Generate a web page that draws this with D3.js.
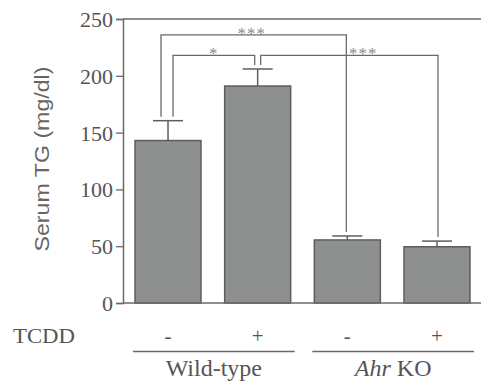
<!DOCTYPE html>
<html>
<head>
<meta charset="utf-8">
<script src="https://cdn.jsdelivr.net/npm/d3@7"></script>
</head>
<body style="margin:0">
<script>
// values
const treatment = ["-", "+", "-", "+"];
const genotype = ["Wild-type", "Wild-type", "Ahr KO", "Ahr KO"];
const means = [143, 191, 55.5, 49.5];
const sems = [17.5, 15, 3.5, 5];
const yTicks = [0, 50, 100, 150, 200, 250];
// significance brackets: [from bar, to bar, level (mg/dl), label]
const brackets = [
  [0, 2, 236, "***"],
  [0, 1, 218, "*"],
  [1, 3, 218, "***"]
];

const width = 481, height = 381;
const svg = d3.select("body").append("svg")
  .attr("width", width)
  .attr("height", height);

// every text gets its face inline so nothing else overrides it
const font = (sel, family) => sel.style("font-family", `'${family || "Liberation Serif"}'`, "important");

const x = d3.scaleBand()
  .domain(d3.range(means.length))
  .range([123, 482])
  .paddingInner(0.264)
  .paddingOuter(0.134);

const y = d3.scaleLinear().domain([0, 250]).range([303, 19]);

const cx = i => x(i) + x.bandwidth() / 2;
const axisColor = "#6a6a6a";

// top line of the frame
svg.append("line")
  .attr("x1", x.range()[0]).attr("x2", width)
  .attr("y1", y(250)).attr("y2", y(250))
  .attr("stroke", axisColor).attr("stroke-width", 1.3);

// y axis
const yAxis = svg.append("g")
  .attr("transform", `translate(${x.range()[0]},0)`)
  .call(d3.axisLeft(y).tickValues(yTicks).tickSize(7).tickPadding(3));
yAxis.select(".domain").attr("stroke", axisColor).attr("stroke-width", 1.5);
yAxis.selectAll(".tick line").attr("stroke", axisColor).attr("stroke-width", 1.3);
yAxis.selectAll(".tick text")
  .call(font)
  .style("font-size", "22px")
  .attr("fill", "#555")
  .attr("dy", "0.34em");

svg.append("text")
  .attr("transform", `translate(49,${(y(0) + y(250)) / 2 - 2}) rotate(-90)`)
  .attr("text-anchor", "middle")
  .call(font, "Liberation Sans")
  .style("font-size", "21px")
  .attr("textLength", 185)
  .attr("lengthAdjust", "spacingAndGlyphs")
  .attr("fill", "#666")
  .text("Serum TG (mg/dl)");

// bars
svg.selectAll("rect.bar")
  .data(means)
  .enter().append("rect")
  .attr("class", "bar")
  .attr("x", (d, i) => x(i))
  .attr("y", d => y(d))
  .attr("width", x.bandwidth())
  .attr("height", d => y(0) - y(d))
  .attr("fill", "#8d908e")
  .attr("stroke", "#5c5e5d")
  .attr("stroke-width", 1.5);

// baseline over bars
svg.append("line")
  .attr("x1", x.range()[0]).attr("x2", width)
  .attr("y1", y(0)).attr("y2", y(0))
  .attr("stroke", axisColor).attr("stroke-width", 1.5);

// error bars
const err = svg.append("g").attr("stroke", "#5c5e5d").attr("stroke-width", 1.5);
means.forEach((m, i) => {
  err.append("line")
    .attr("x1", cx(i)).attr("x2", cx(i))
    .attr("y1", y(m)).attr("y2", y(m + sems[i]));
  err.append("line")
    .attr("x1", cx(i) - 15).attr("x2", cx(i) + 15)
    .attr("y1", y(m + sems[i])).attr("y2", y(m + sems[i]));
});

// significance brackets
const legOffset = [[-7, -1], [5, -3], [3, 1]];
const labelShift = [-2, 0, 14];
brackets.forEach(([a, b, level, label], k) => {
  const xa = cx(a) + legOffset[k][0], xb = cx(b) + legOffset[k][1];
  const ya = y(means[a] + sems[a]) - 4, yb = y(means[b] + sems[b]) - 4;
  const yl = y(level);
  svg.append("path")
    .attr("d", `M${xa},${ya}V${yl}H${xb}V${yb}`)
    .attr("fill", "none")
    .attr("stroke", axisColor)
    .attr("stroke-width", 1.3);
  svg.append("text")
    .attr("x", (xa + xb) / 2 + labelShift[k])
    .attr("y", yl + 4)
    .attr("text-anchor", "middle")
    .call(font)
    .style("font-size", "17px")
    .attr("letter-spacing", 1)
    .attr("fill", "#8a8a8a")
    .text(label);
});

// treatment row
svg.append("text")
  .attr("x", 13).attr("y", 343)
  .call(font)
  .style("font-size", "22px")
  .attr("textLength", 62)
  .attr("lengthAdjust", "spacingAndGlyphs")
  .attr("fill", "#555")
  .text("TCDD");

svg.selectAll("text.sign")
  .data(treatment)
  .enter().append("text")
  .attr("class", "sign")
  .attr("x", (d, i) => cx(i))
  .attr("y", 343)
  .attr("text-anchor", "middle")
  .call(font)
  .style("font-size", "21px")
  .attr("fill", "#555")
  .text(d => d);

// genotype groups
const groups = Array.from(d3.group(d3.range(genotype.length), i => genotype[i]));
groups.forEach(([name, idx]) => {
  const x0 = x(idx[0]) - 2, x1 = Math.min(x(idx[idx.length - 1]) + x.bandwidth() + 4, 475);
  svg.append("line")
    .attr("x1", x0).attr("x2", x1)
    .attr("y1", 351.5).attr("y2", 351.5)
    .attr("stroke", axisColor).attr("stroke-width", 1.5);
  const t = svg.append("text")
    .attr("x", (x0 + x1) / 2)
    .attr("y", 376)
    .attr("text-anchor", "middle")
    .call(font)
    .style("font-size", "24px")
    .attr("fill", "#555");
  if (name.startsWith("Ahr")) {
    t.append("tspan").style("font-style", "italic").text("Ahr");
    t.append("tspan").text(name.slice(3));
  } else {
    t.text(name);
  }
});
</script>
</body>
</html>
